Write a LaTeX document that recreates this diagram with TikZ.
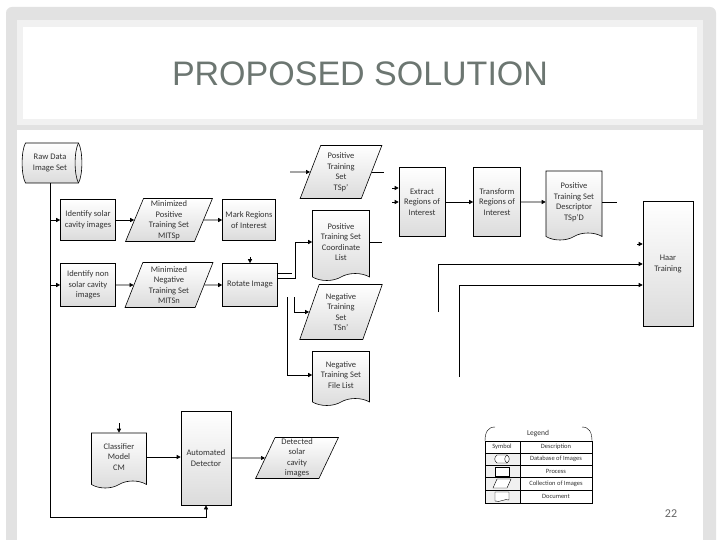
\documentclass[tikz,border=0pt]{standalone}
\usepackage{fontspec}
\setmainfont{Carlito}
\newfontfamily\headfont{Liberation Sans}
\usetikzlibrary{shapes.geometric,shapes.symbols,arrows.meta}
\definecolor{headgray}{RGB}{108,118,113}
\definecolor{framegray}{RGB}{226,226,226}
\definecolor{bandgray}{RGB}{241,241,241}
\begin{document}
\begin{tikzpicture}[x=1pt, y=-1pt, line width=0.6pt,
    shade/.style={top color=white, bottom color=black!14},
    label text/.style={align=center, font=\fontsize{8.5}{10.5}\selectfont, text=black!80, inner sep=1pt},
    proc/.style={draw, shade, label text},
    coll/.style={proc, trapezium, trapezium left angle=70, trapezium right angle=110, trapezium stretches=true},
    docu/.style={proc, tape, tape bend top=none, tape bend bottom=in and out, tape bend height=7pt},
    arr/.style={-{Triangle[length=4pt,width=4pt]}},
    legtext/.style={font=\fontsize{6.5}{8}\selectfont, text=black!80, inner sep=0pt}]
  % slide frame
  \useasboundingbox (0,0) rectangle (720,540);
  \fill[white] (0,0) rectangle (720,540);
  \fill[framegray, rounded corners=6pt] (6,7) rectangle (716,560);
  \fill[bandgray] (17,20) rectangle (703,125);
  \fill[white] (23,27) rectangle (697,119);
  \fill[white] (17,130) rectangle (703,540);
  \node[text=headgray, font=\headfont\fontsize{34}{40}\selectfont] (title) at (360,74) {PROPOSED SOLUTION};

  % left column
  \begin{scope}[shift={(52,163)}]
    \draw[shade] (-26.5,-20) .. controls (-31,-12) and (-31,12) .. (-26.5,20) -- (26.5,20)
      .. controls (31,12) and (31,-12) .. (26.5,-20) -- cycle;
    \draw (26.5,-20) .. controls (22,-12) and (22,12) .. (26.5,20);
  \end{scope}
  \node[label text, minimum width=52pt, minimum height=40pt] (raw) at (50,163) {Raw Data\\Image Set};
  \node[proc, minimum width=55pt, minimum height=41pt] (idsolar) at (88,220) {Identify solar\\cavity images};
  \node[coll, minimum width=87pt, minimum height=43pt] (mitsp) at (169,220) {Minimized\\Positive\\Training Set\\MITSp};
  \node[proc, minimum width=53pt, minimum height=41pt] (mark) at (249,220) {Mark Regions\\of Interest};
  \node[proc, minimum width=55pt, minimum height=43pt] (idnon) at (88,285) {Identify non\\solar cavity\\images};
  \node[coll, minimum width=88pt, minimum height=45pt] (mitsn) at (169,285) {Minimized\\Negative\\Training Set\\MITSn};
  \node[proc, minimum width=55pt, minimum height=43pt] (rotate) at (250,285) {Rotate Image};

  % training sets
  \node[coll, minimum width=82pt, minimum height=53pt] (tsp) at (341,172) {Positive\\Training\\Set\\TSp’};
  \node[docu, minimum width=57pt, minimum height=70pt] (coordlist) at (341,242) {Positive\\Training Set\\Coordinate\\List};
  \node[coll, minimum width=83pt, minimum height=55pt] (tsn) at (341,312) {Negative\\Training\\Set\\TSn’};
  \node[docu, minimum width=57pt, minimum height=54pt] (filelist) at (341,375) {Negative\\Training Set\\File List};
  \node[proc, minimum width=46pt, minimum height=69pt] (extract) at (422,202) {Extract\\Regions of\\Interest};
  \node[proc, minimum width=47pt, minimum height=69pt] (transform) at (497,202) {Transform\\Regions of\\Interest};
  \node[docu, minimum width=56pt, minimum height=69pt] (descriptor) at (574,202) {Positive\\Training Set\\Descriptor\\TSp’D};
  \node[proc, minimum width=50pt, minimum height=125pt] (haar) at (668,264) {Haar\\Training};

  % detection
  \node[docu, minimum width=55pt, minimum height=55pt] (model) at (119,457) {Classifier\\Model\\CM};
  \node[proc, minimum width=50pt, minimum height=94pt] (detector) at (206,458) {Automated\\Detector};
  \node[coll, minimum width=83pt, minimum height=41pt] (detected) at (297,458) {Detected\\solar\\cavity\\images};

  % connectors
  \coordinate (bus) at (206,517);
  \draw[arr] (raw.south) |- (bus) -- (detector.south);
  \draw[arr] (raw.south |- idsolar.west) -- (idsolar.west);
  \draw[arr] (raw.south |- idnon.west) -- (idnon.west);
  \draw[arr] (idsolar) -- (mitsp);
  \draw[arr] (mitsp) -- (mark);
  \draw[arr] (idnon) -- (mitsn);
  \draw[arr] (mitsn) -- (rotate);
  \coordinate (rotatefeed) at (250,257);
  \draw[arr] (rotatefeed) -- (rotate.north);
  \draw[arr] ([yshift=7pt]rotate.east) -- ++(17,0) |- (coordlist.west);
  \coordinate (tsnfeed) at (294,297);
  \draw[arr] ([yshift=12pt]rotate.east) -- ++(14,0) (tsnfeed) |- (tsn.west);
  \coordinate (listfeed) at (287,297);
  \draw[arr] (listfeed) |- (filelist.west);
  \coordinate (tspfeed) at (290,172);
  \draw[arr] (tspfeed) -- (tsp.west);
  \draw (tsp.east) -- ++(12,0);
  \draw (coordlist.east) -- ++(12,0);
  \coordinate (extractfeed) at (392,188);
  \draw[arr] (extractfeed) -- (extractfeed -| extract.west);
  \draw[arr] (extractfeed |- extract.west) -- (extract.west);
  \draw[arr] (extract) -- (transform);
  \draw[arr] (transform) -- (descriptor);
  \draw (descriptor.east) -- ++(15,0);
  \coordinate (haarfeed) at (637,244);
  \draw[arr] (haarfeed) -- (haarfeed -| haar.west);
  \coordinate (negfeed) at (438,312);
  \draw[arr] (negfeed) |- (haar.west);
  \coordinate (negfilefeed) at (459,377);
  \draw[arr] (negfilefeed) |- ([yshift=-21pt]haar.west);
  \coordinate (modelfeed) at (119,423);
  \draw[arr] (modelfeed) -- (model.north);
  \draw[arr] (model.east) -- (model.east -| detector.west);
  \draw[arr] (detector) -- (detected);

  % legend
  \begin{scope}[line width=0.4pt]
    \fill[black!6] (485,453) rectangle (520,503);
    \draw (485,441) .. controls (485,432) and (488,427) .. (495,427);
    \draw (582,427) .. controls (589,427) and (592,432) .. (592,441);
    \draw (485,441) rectangle (592,503);
    \foreach \yy in {453,465,477,490} \draw (485,\yy) -- (592,\yy);
    \draw (520,441) -- (520,503);
    \node[legtext, font=\fontsize{7.5}{9}\selectfont] (legtitle) at (538,434) {Legend};
    \node[legtext] (legsym) at (502,447) {Symbol};
    \node[legtext] (legdesc) at (556,447) {Description};
    \node[legtext] (legdb) at (556,459) {Database of Images};
    \node[legtext] (legpr) at (556,471) {Process};
    \node[legtext] (legcol) at (556,483.5) {Collection of Images};
    \node[legtext] (legdoc) at (556,496.5) {Document};
    % symbols
    \draw[fill=white] (497,455) .. controls (494,457) and (494,461) .. (497,463) -- (507,463)
      .. controls (510,461) and (510,457) .. (507,455) -- cycle;
    \draw (507,455) .. controls (504,457) and (504,461) .. (507,463);
    \draw[fill=white] (495,467) rectangle (509,476);
    \draw[fill=white] (493,488) -- (497,479) -- (511,479) -- (507,488) -- cycle;
    \draw[fill=white] (495,492) -- (509,492) -- (509,500)
      .. controls (505,498) and (500,503) .. (495,501) -- cycle;
  \end{scope}

  \node[text=black!60, font=\fontsize{12}{14}\selectfont] (pagenum) at (671,514) {22};
\end{tikzpicture}
\end{document}
